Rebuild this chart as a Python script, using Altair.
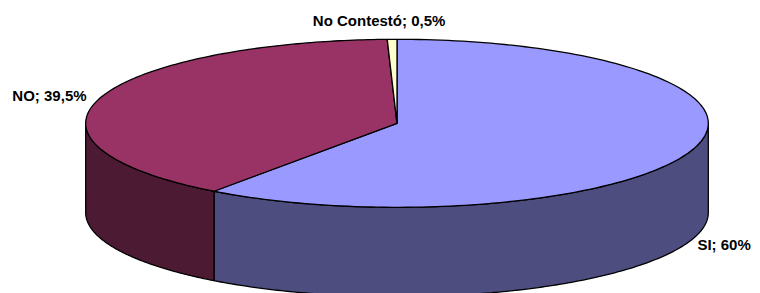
import altair as alt
import pandas as pd

# ---- data ----
categories = ["SI", "NO", "No Contestó"]
values = [60, 39.5, 0.5]
labels = ["SI; 60%", "NO; 39,5%", "No Contestó; 0,5%"]

# ---- style / layout ----
top_colors = ["#9999FF", "#993366", "#FFFFCC"]
side_colors = ["#4D4D80", "#4D1A33", "#80805C"]
label_dx = [31, -50, -13]
label_dy = [11, 2, -13]

W, H = 744, 285
CX, CY, RX, RY, DEPTH = 397, 123.3, 311.3, 84, 89.4
N = 160

slices = pd.DataFrame({
    "cat": categories,
    "value": values,
    "label": labels,
    "idx": list(range(len(categories))),
    "ldx": label_dx,
    "ldy": label_dy,
})

xscale = alt.Scale(domain=[8, 8 + W], nice=False, zero=False)
yscale = alt.Scale(domain=[8, 8 + H], nice=False, zero=False, reverse=True)

base = (
    alt.Chart(slices)
    .transform_joinaggregate(total="sum(value)")
    .transform_window(cum="sum(value)", sort=[alt.SortField("idx")], frame=[None, 0])
    .transform_calculate(
        a1="2*PI*datum.cum/datum.total",
        a0="2*PI*(datum.cum-datum.value)/datum.total",
    )
)

# front walls (visible part: angles between 90 and 270 degrees, clockwise from top)
side = (
    base.transform_calculate(
        s="max(datum.a0, PI/2)",
        e="min(datum.a1, 3*PI/2)",
    )
    .transform_filter("datum.e > datum.s")
    .transform_calculate(k=f"sequence(0, {2 * N + 2})")
    .transform_flatten(["k"])
    .transform_calculate(
        ang=f"datum.k <= {N} ? datum.s + (datum.e-datum.s)*datum.k/{N} : datum.e - (datum.e-datum.s)*(datum.k-{N + 1})/{N}",
        px=f"{CX} + {RX}*sin(datum.ang)",
        py=f"{CY} - {RY}*cos(datum.ang) + (datum.k <= {N} ? 0 : {DEPTH})",
    )
    .mark_line(filled=True, interpolate="linear-closed", stroke="black",
               strokeWidth=1.3, strokeJoin="round")
    .encode(
        x=alt.X("px:Q", scale=xscale, axis=None),
        y=alt.Y("py:Q", scale=yscale, axis=None),
        order=alt.Order("k:Q"),
        color=alt.Color("cat:N", scale=alt.Scale(domain=categories, range=side_colors), legend=None),
    )
)

# top faces
top = (
    base.transform_calculate(k=f"sequence(0, {N + 2})")
    .transform_flatten(["k"])
    .transform_calculate(
        ang=f"datum.a0 + (datum.a1-datum.a0)*(datum.k-1)/{N}",
        px=f"datum.k == 0 ? {CX} : {CX} + {RX}*sin(datum.ang)",
        py=f"datum.k == 0 ? {CY} : {CY} - {RY}*cos(datum.ang)",
    )
    .mark_line(filled=True, interpolate="linear-closed", stroke="black",
               strokeWidth=1.3, strokeJoin="round")
    .encode(
        x=alt.X("px:Q", scale=xscale, axis=None),
        y=alt.Y("py:Q", scale=yscale, axis=None),
        order=alt.Order("k:Q"),
        color=alt.Color("cat:N", scale=alt.Scale(domain=categories, range=top_colors), legend=None),
    )
)

# labels anchored at each slice's mid angle
text = (
    base.transform_calculate(mid="(datum.a0+datum.a1)/2")
    .transform_calculate(
        lx=f"{CX} + {RX}*sin(datum.mid) + datum.ldx",
        ly=f"{CY} - {RY}*cos(datum.mid) + (cos(datum.mid) < 0 ? {DEPTH} : 0) + datum.ldy",
    )
    .mark_text(font="Liberation Sans", fontSize=15, fontWeight="bold",
               align="center", baseline="alphabetic", color="black")
    .encode(
        x=alt.X("lx:Q", scale=xscale, axis=None),
        y=alt.Y("ly:Q", scale=yscale, axis=None),
        text="label:N",
    )
)

chart = (
    alt.layer(side, top, text)
    .resolve_scale(color="independent")
    .properties(width=W, height=H, padding=0, autosize="none", background="white")
    .configure_view(stroke=None)
)

chart.save("out.html", embed_options={"renderer": "svg", "actions": False})
